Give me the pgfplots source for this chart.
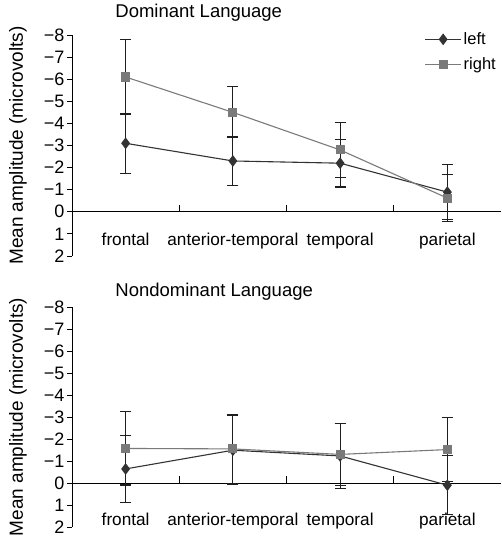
\documentclass[border=0pt]{standalone}
\usepackage{fontspec}
\setmainfont{Liberation Sans}
\usepackage{pgfplots}
\pgfplotsset{compat=1.18}

\definecolor{leftc}{HTML}{333333}
\definecolor{rightc}{HTML}{7A7A7A}
\definecolor{barc}{HTML}{1E1E1E}

\pgfplotsset{
  ampl/.style={
    scale only axis,
    width=429pt,
    xmin=0.5, xmax=4.5,
    ymin=-8, ymax=2,
    y dir=reverse,
    axis y line*=left,
    axis x line*=middle,
    axis line style={line width=0.9pt, black},
    xtick={1,2,3,4},
    xticklabels={frontal,anterior-temporal,temporal,parietal},
    x tick style={draw=none},
    ytick={-8,-7,-6,-5,-4,-3,-2,-1,0,1,2},
    yticklabels={−8,−7,−6,−5,−4,−3,−2,−1,0,1,2},
    y tick style={line width=0.9pt, black},
    tick align=outside,
    major tick length=5pt,
    xticklabel style={font=\fontsize{17.2}{19}\selectfont},
    yticklabel style={font=\fontsize{18}{19}\selectfont, inner xsep=2.5pt},
    ylabel={Mean amplitude (microvolts)},
    ylabel style={at={(axis description cs:-0.126,0.5)}, anchor=center,
      font=\fontsize{19}{21}\selectfont},
    title style={anchor=base west, font=\fontsize{18.5}{21}\selectfont},
    error bars/error bar style={barc, line width=1.1pt, solid},
    error bars/error mark options={barc, line width=1.1pt, mark size=5.5pt, rotate=90},
    clip=false,
  },
  leftser/.style={leftc, line width=1.1pt, mark=diamond*, mark size=5pt,
    mark options={fill=leftc, solid},
    error bars/.cd, y dir=both, y explicit},
  rightser/.style={rightc, line width=1.1pt, mark=square*, mark size=4pt,
    mark options={fill=rightc, solid},
    error bars/.cd, y dir=both, y explicit},
}

\begin{document}
\begin{tikzpicture}
\useasboundingbox (0pt,0pt) rectangle (501pt,549pt);

% Dominant Language
\begin{axis}[ampl,
  at={(72pt,293pt)}, anchor=south west,
  height=221pt,
  title={Dominant Language},
  title style={at={(axis description cs:0.093,1)}, yshift=12pt},
  xticklabel style={yshift=-13pt},
  legend style={draw=none, fill=none, at={(axis description cs:1.0,1.03)},
    anchor=north east, font=\fontsize{16.5}{19}\selectfont,
    row sep=8pt, legend cell align=left},
  legend image code/.code={\draw[mark repeat=2,mark phase=2,#1]
    plot coordinates {(0pt,0pt) (18pt,0pt) (36pt,0pt)};},
]
\addplot[leftser] table[y error=e] {
x y e
1 -3.10 1.35
2 -2.30 1.10
3 -2.20 1.08
4 -0.89 1.25
};
\addlegendentry{left}
\addplot[rightser] table[y error=e] {
x y e
1 -6.10 1.70
2 -4.50 1.15
3 -2.80 1.23
4 -0.62 1.05
};
\addlegendentry{right}
\draw[line width=0.9pt] (axis cs:1.5,0) -- ++(0pt,7pt);
\draw[line width=0.9pt] (axis cs:2.5,0) -- ++(0pt,7pt);
\draw[line width=0.9pt] (axis cs:3.5,0) -- ++(0pt,7pt);
\end{axis}

% Nondominant Language
\begin{axis}[ampl,
  at={(72pt,22pt)}, anchor=south west,
  height=220pt,
  title={Nondominant Language},
  title style={at={(axis description cs:0.093,1)}, yshift=4.5pt},
  xticklabel style={yshift=-22pt},
]
\addplot[leftser] table[y error=e] {
x y e
1 -0.64 1.52
2 -1.49 1.57
3 -1.23 1.47
4  0.10 1.35
};
\addplot[rightser] table[y error=e] {
x y e
1 -1.57 1.66
2 -1.55 1.57
3 -1.30 1.42
4 -1.52 1.46
};
\draw[line width=0.9pt] (axis cs:1.5,0) -- ++(0pt,7pt);
\draw[line width=0.9pt] (axis cs:2.5,0) -- ++(0pt,7pt);
\draw[line width=0.9pt] (axis cs:3.5,0) -- ++(0pt,7pt);
\end{axis}
\end{tikzpicture}
\end{document}
